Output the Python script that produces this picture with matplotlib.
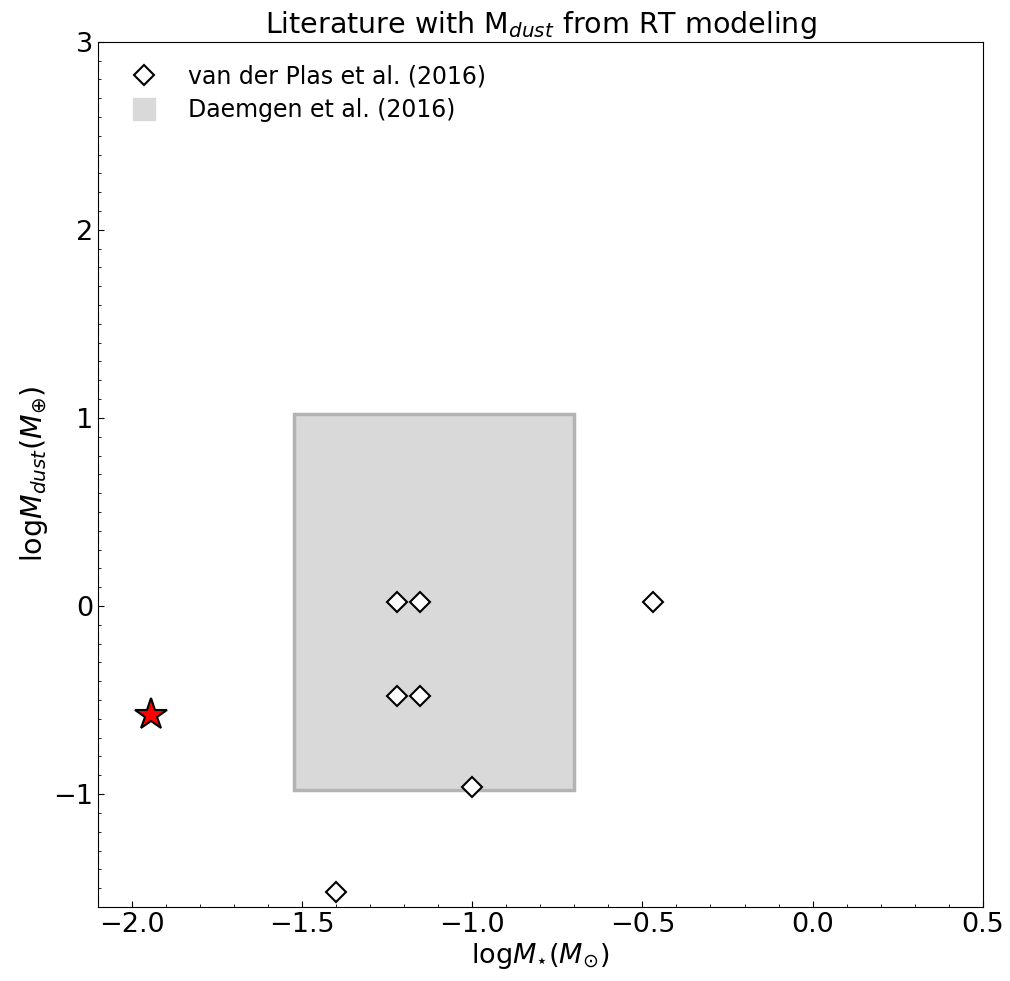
import matplotlib
matplotlib.use('Agg')
import matplotlib.pyplot as plt
from matplotlib.lines import Line2D
from matplotlib.patches import Rectangle
from matplotlib.ticker import MultipleLocator

# van der Plas et al. (2016)
vdp_mstar = [-1.22, -1.155, -1.22, -1.155, -1.0, -0.47, -1.40]
vdp_mdust = [0.02, 0.02, -0.48, -0.48, -0.96, 0.02, -1.52]

# Daemgen et al. (2016) range
daemgen_mstar = [-1.525, -0.70]
daemgen_mdust = [-0.98, 1.02]

# this object
obj_mstar = [-1.945]
obj_mdust = [-0.58]

fig = plt.figure(figsize=(10.1, 9.81), dpi=100)
ax = fig.add_axes([0.097, 0.0755, 0.876, 0.882])

rect = Rectangle((daemgen_mstar[0], daemgen_mdust[0]),
                 daemgen_mstar[1] - daemgen_mstar[0],
                 daemgen_mdust[1] - daemgen_mdust[0],
                 facecolor='#d9d9d9', edgecolor='#b3b3b3', lw=2.5, zorder=1)
ax.add_patch(rect)

ax.plot(vdp_mstar, vdp_mdust, 'D', ms=10, mfc='white', mec='black', mew=1.5, zorder=3)
ax.plot(obj_mstar, obj_mdust, '*', ms=24, mfc='red', mec='black', mew=1.5, zorder=4)

handles = [Line2D([], [], ls='none', marker='D', ms=10, mfc='white', mec='black', mew=1.5),
           Line2D([], [], ls='none', marker='s', ms=16, mfc='#d9d9d9', mec='#d9d9d9')]
ax.legend(handles, ['van der Plas et al. (2016)', 'Daemgen et al. (2016)'],
          loc='upper left', frameon=False, fontsize=17, borderpad=0.4,
          borderaxespad=0.55, labelspacing=0.42, handletextpad=0.85)

ax.set_xlim(-2.1, 0.5)
ax.set_ylim(-1.6, 3)
ax.xaxis.set_major_locator(MultipleLocator(0.5))
ax.xaxis.set_minor_locator(MultipleLocator(0.1))
ax.yaxis.set_major_locator(MultipleLocator(1))
ax.yaxis.set_minor_locator(MultipleLocator(0.1))
ax.tick_params(which='both', direction='in', labelsize=19.5)
ax.tick_params(which='major', length=4.5)
ax.tick_params(which='minor', length=2.5)

ax.set_xlabel(r'log$M_{\star}(M_{\odot})$', fontsize=19.5, labelpad=2)
ax.set_ylabel(r'log$M_{dust}(M_{\oplus})$', fontsize=20.5, labelpad=2)
ax.set_title(r'Literature with M$_{dust}$ from RT modeling', fontsize=20.5)

fig.savefig('out.png', dpi=100)
